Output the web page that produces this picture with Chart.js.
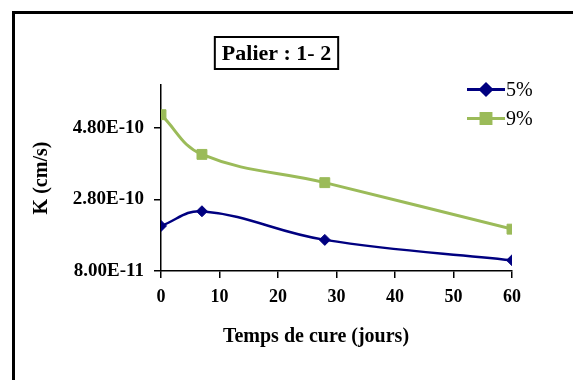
<!DOCTYPE html>
<html>
<head>
<meta charset="utf-8">
<script src="https://cdn.jsdelivr.net/npm/chart.js@4.4.1/dist/chart.umd.min.js"></script>
<style>
  html, body { margin: 0; padding: 0; background: #fff; overflow: hidden; }
  #wrap { position: relative; width: 573px; height: 380px; }
  #frame { position: absolute; left: 12px; top: 11px; width: 600px; height: 420px;
           border-top: 3px solid #000; border-left: 3px solid #000; box-sizing: border-box; }
  canvas { position: absolute; left: 0; top: 0; }
</style>
</head>
<body>
<div id="wrap">
  <div id="frame"></div>
  <canvas id="c" width="573" height="380"></canvas>
</div>
<script>
// Curing time (days)
const days = [0, 7, 28, 60];
// Permeability K (cm/s)
const k5 = [2.06e-10, 2.47e-10, 1.67e-10, 1.10e-10];
const k9 = [5.17e-10, 4.06e-10, 3.27e-10, 1.97e-10];
const seriesNames = ['5%', '9%'];
const yTickValues = [8.0e-11, 2.8e-10, 4.8e-10];
const xTickValues = [0, 10, 20, 30, 40, 50, 60];
const chartTitle = 'Palier : 1- 2';
const xTitle = 'Temps de cure (jours)';
const yTitle = 'K (cm/s)';

const SERIF = '"Liberation Serif", "Times New Roman", serif';
const BLUE = '#000080';
const GREEN = '#9bbb59';

const toXY = (vals) => days.map((d, i) => ({ x: d, y: vals[i] }));

// Boxed heading, custom legend and x-axis title
const decorations = {
  id: 'decorations',
  afterDraw(chart) {
    const ctx = chart.ctx;
    ctx.save();

    // heading box
    ctx.font = 'bold 22px ' + SERIF;
    ctx.textAlign = 'center';
    ctx.textBaseline = 'middle';
    ctx.fillStyle = '#000';
    const cx = 276.5, cy = 53;
    const tw = ctx.measureText(chartTitle).width;
    ctx.fillText(chartTitle, cx, cy + 1);
    ctx.lineWidth = 2;
    ctx.strokeStyle = '#000';
    ctx.strokeRect(cx - tw / 2 - 7, 37, tw + 14, 32);

    // legend
    const ds = chart.data.datasets;
    const lx0 = 467, lx1 = 505;
    const ly = [89.5, 118.5];
    ds.forEach((d, i) => {
      ctx.strokeStyle = d.borderColor;
      ctx.lineWidth = 3;
      ctx.beginPath();
      ctx.moveTo(lx0, ly[i]);
      ctx.lineTo(lx1, ly[i]);
      ctx.stroke();
      Chart.helpers.drawPoint(ctx, {
        pointStyle: d.pointStyle, radius: d.pointRadius, rotation: 0,
        borderWidth: 1
      }, (lx0 + lx1) / 2, ly[i]);
      ctx.fillStyle = d.backgroundColor;
      ctx.fill();
      ctx.fillStyle = '#000';
      ctx.font = '20px ' + SERIF;
      ctx.textAlign = 'left';
      ctx.textBaseline = 'middle';
      ctx.fillText(d.label, lx1 + 1, ly[i] + 1);
    });

    // x-axis title
    ctx.font = 'bold 20px ' + SERIF;
    ctx.textAlign = 'center';
    ctx.textBaseline = 'middle';
    ctx.fillStyle = '#000';
    ctx.fillText(xTitle, 316, 337);
    ctx.restore();
  }
};

new Chart(document.getElementById('c'), {
  type: 'line',
  data: {
    datasets: [
      {
        label: seriesNames[0], data: toXY(k5),
        borderColor: BLUE, backgroundColor: BLUE, borderWidth: 2.5,
        pointStyle: 'rectRot', pointRadius: 5.5, pointBorderWidth: 1,
        tension: 0.4
      },
      {
        label: seriesNames[1], data: toXY(k9),
        borderColor: GREEN, backgroundColor: GREEN, borderWidth: 3,
        pointStyle: 'rect', pointRadius: 7, pointBorderWidth: 1,
        tension: 0.4
      }
    ]
  },
  options: {
    responsive: false,
    animation: false,
    layout: { padding: { left: 20, right: 61, top: 85, bottom: 0 } },
    plugins: { legend: { display: false }, title: { display: false }, tooltip: { enabled: false } },
    scales: {
      x: {
        type: 'linear', min: 0, max: 60,
        afterBuildTicks(scale) { scale.ticks = xTickValues.map(v => ({ value: v })); },
        afterFit(scale) { scale.height = 109; },
        grid: { drawOnChartArea: false, drawTicks: true, tickLength: 7, color: '#000', lineWidth: 1.5 },
        border: { color: '#000', width: 1.5 },
        ticks: { color: '#000', padding: 9, font: { family: SERIF, size: 18, weight: 'bold' }, maxRotation: 0 }
      },
      y: {
        type: 'linear', min: 8.0e-11, max: 6.0e-10,
        afterBuildTicks(scale) { scale.ticks = yTickValues.map(v => ({ value: v })); },
        afterFit(scale) { scale.width = 141; },
        grid: { drawOnChartArea: false, drawTicks: true, tickLength: 7, color: '#000', lineWidth: 1.5 },
        border: { color: '#000', width: 1.5 },
        ticks: {
          color: '#000', padding: 10,
          font: { family: SERIF, size: 19, weight: 'bold' },
          callback: (v) => Number(v).toExponential(2).toUpperCase()
        },
        title: {
          display: true, text: yTitle, color: '#000',
          font: { family: SERIF, size: 20, weight: 'bold' },
          padding: { top: 10, bottom: 0 }
        }
      }
    }
  },
  plugins: [decorations]
});
</script>
</body>
</html>
